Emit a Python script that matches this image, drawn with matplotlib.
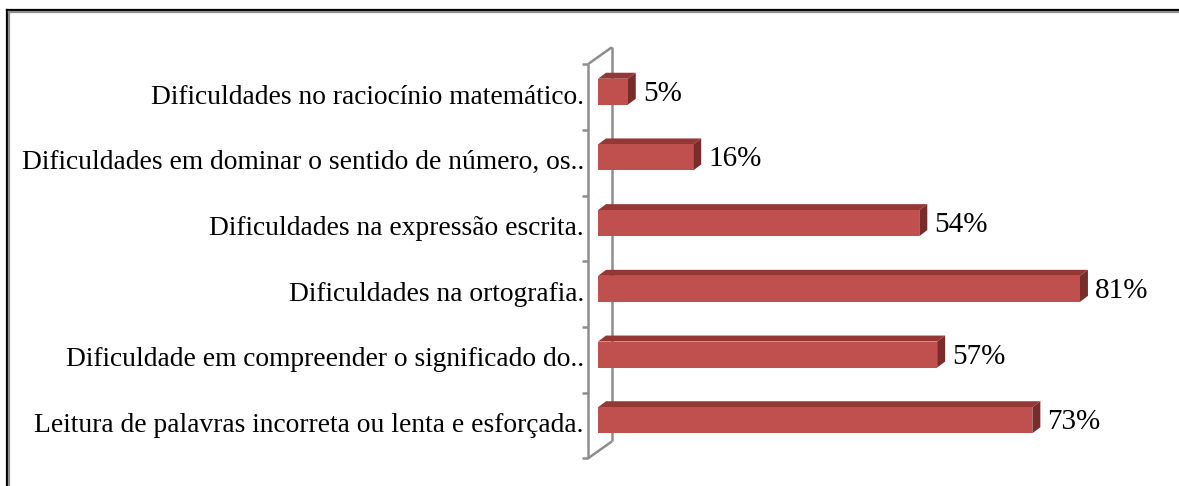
import numpy as np
import matplotlib.pyplot as plt
from matplotlib.patches import Polygon
from matplotlib.lines import Line2D

# dados do grafico (de cima para baixo)
categorias = [
    'Dificuldades no raciocínio matemático.',
    'Dificuldades em dominar o sentido de número, os..',
    'Dificuldades na expressão escrita.',
    'Dificuldades na ortografia.',
    'Dificuldade em compreender o significado do..',
    'Leitura de palavras incorreta ou lenta e esforçada.',
]
valores = [5, 16, 54, 81, 57, 73]
rotulos = ['5%', '16%', '54%', '81%', '57%', '73%']

W, H = 1179, 486
px_x = 5.95    # pixels por ponto percentual
px_y = 65.7    # pixels por categoria

cor_frente = '#C0504D'
cor_topo = '#953735'
cor_lado = '#7A2C2A'
cor_parede = '#8E8E8E'

fig = plt.figure(figsize=(W / 100, H / 100), dpi=100)

# eixo posicionado para que x=0 fique no inicio das barras
x0_px, xmax = 598, 95
ytop, ybot = -0.85, 5.75
top_px = 97 + ytop * px_y
bot_px = 97 + ybot * px_y
ax = fig.add_axes([x0_px / W, (H - bot_px) / H, xmax * px_x / W, (bot_px - top_px) / H])
ax.set_xlim(0, xmax)
ax.set_ylim(ybot, ytop)
ax.axis('off')

# profundidade 3D
prof_x = 24 / px_x
prof_y = -17 / px_y
frente_x = -10 / px_x
n = len(categorias)

# parede lateral (eixo de categorias)
y_a, y_b = -0.5, n - 0.5
parede = [
    ([frente_x, frente_x], [y_a, y_b]),
    ([frente_x + prof_x, frente_x + prof_x], [y_a + prof_y, y_b + prof_y]),
    ([frente_x, frente_x + prof_x], [y_a, y_a + prof_y]),
    ([frente_x, frente_x + prof_x], [y_b, y_b + prof_y]),
]
for xs, ys in parede:
    ax.plot(xs, ys, color=cor_parede, lw=1.8, clip_on=False, zorder=1,
            solid_capstyle='butt')
for t in np.arange(y_a, y_b + 0.01, 1.0):
    ax.plot([frente_x - 6 / px_x, frente_x], [t, t], color=cor_parede, lw=1.8,
            clip_on=False, zorder=1, solid_capstyle='butt')

# barras 3D
h = 26 / px_y
dx = 8 / px_x
dy = -6 / px_y
for i, v in enumerate(valores):
    yc = i - 0.08
    yt, yb = yc - h / 2, yc + h / 2
    frente = Polygon([(0, yt), (v, yt), (v, yb), (0, yb)], closed=True,
                     facecolor=cor_frente, edgecolor='none', zorder=3, clip_on=False)
    topo = Polygon([(0, yt), (v, yt), (v + dx, yt + dy), (dx, yt + dy)], closed=True,
                   facecolor=cor_topo, edgecolor='none', zorder=3, clip_on=False)
    lado = Polygon([(v, yt), (v, yb), (v + dx, yb + dy), (v + dx, yt + dy)], closed=True,
                   facecolor=cor_lado, edgecolor='none', zorder=3, clip_on=False)
    for p in (topo, lado, frente):
        ax.add_patch(p)
    ax.text(v + dx + 7 / px_x, yc + 0.03, rotulos[i], ha='left', va='center',
            fontsize=21, family='Liberation Serif', color='black', clip_on=False)

# rotulos das categorias
for i, c in enumerate(categorias):
    ax.text(frente_x - 4 / px_x, i, c, ha='right', va='center', fontsize=19.8,
            family='Liberation Serif', color='black', clip_on=False)

# moldura
fig.add_artist(Line2D([7 / W, 1], [1 - 10 / H, 1 - 10 / H], color='black', lw=1.6,
                      transform=fig.transFigure))
fig.add_artist(Line2D([7 / W, 7 / W], [0, 1 - 10 / H], color='black', lw=1.6,
                      transform=fig.transFigure))
fig.add_artist(Line2D([9 / W, 1], [1 - 12 / H, 1 - 12 / H], color='#8C8C8C', lw=1.6,
                      transform=fig.transFigure))
fig.add_artist(Line2D([9 / W, 9 / W], [0, 1 - 12 / H], color='#8C8C8C', lw=1.6,
                      transform=fig.transFigure))

fig.savefig('out.png', dpi=100)
